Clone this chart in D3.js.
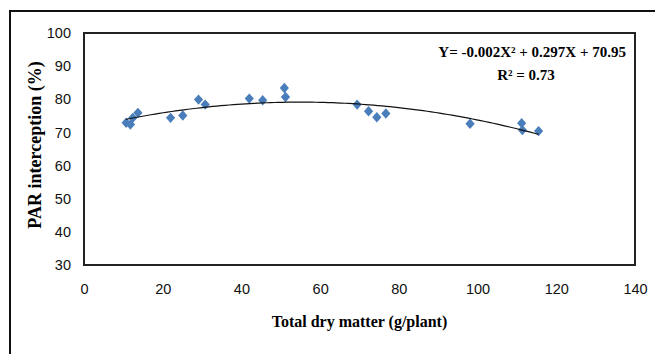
<!DOCTYPE html>
<html>
<head>
<meta charset="utf-8">
<script src="https://cdn.jsdelivr.net/npm/d3@7"></script>
<style>
  body { margin: 0; background: #fff; }
  svg { display: block; }
</style>
</head>
<body>
<div id="chart"></div>
<script>
// values
const dryMatter = [10.7, 11.8, 12.4, 13.7, 22.0, 25.1, 29.1, 30.8, 42.0, 45.4,
  50.9, 51.2, 69.4, 72.3, 74.4, 76.7, 98.1, 111.2, 111.4, 115.5]
const parInterception = [72.9, 72.4, 74.4, 75.9, 74.4, 75.1, 79.9, 78.4, 80.2, 79.7,
  83.4, 80.7, 78.4, 76.4, 74.6, 75.7, 72.6, 72.8, 70.7, 70.4]
const xTicks = [0, 20, 40, 60, 80, 100, 120, 140]
const yTicks = [30, 40, 50, 60, 70, 80, 90, 100]
const equationText = 'Y= -0.002X\u00B2 + 0.297X + 70.95'
const r2Text = 'R\u00B2 = 0.73'

const W = 655, H = 354
const margin = { left: 84, top: 33, right: 20, bottom: 89 }

const svg = d3.select('#chart').append('svg')
  .attr('width', W).attr('height', H)

// outer frame (right and bottom run off the picture)
svg.append('rect')
  .attr('x', 10).attr('y', 11)
  .attr('width', 660).attr('height', 360)
  .attr('fill', '#fff').attr('stroke', '#111').attr('stroke-width', 2)

const x = d3.scaleLinear().domain([0, 140]).range([margin.left, W - margin.right])
const y = d3.scaleLinear().domain([30, 100]).range([H - margin.bottom, margin.top])

// plot area
svg.append('rect')
  .attr('x', x(0)).attr('y', y(100))
  .attr('width', x(140) - x(0)).attr('height', y(30) - y(100))
  .attr('fill', '#fff').attr('stroke', '#222').attr('stroke-width', 2)

const xAxis = svg.append('g')
  .attr('transform', `translate(0, ${y(30)})`)
  .call(d3.axisBottom(x).tickValues(xTicks).tickSize(0).tickPadding(19))
xAxis.select('.domain').remove()
xAxis.selectAll('text')
  .attr('font-family', 'Liberation Sans, Arial, sans-serif')
  .attr('font-size', 14.5).attr('fill', '#111')

const yAxis = svg.append('g')
  .attr('transform', `translate(${x(0)}, 0)`)
  .call(d3.axisLeft(y).tickValues(yTicks).tickSize(0).tickPadding(13))
yAxis.select('.domain').remove()
yAxis.selectAll('text')
  .attr('font-family', 'Liberation Sans, Arial, sans-serif')
  .attr('font-size', 14.5).attr('fill', '#111')

// quadratic least squares trendline from the points
function quadFit(xs, ys) {
  let s = [0, 0, 0, 0, 0], t = [0, 0, 0]
  xs.forEach((xv, i) => {
    for (let k = 0; k < 5; k++) s[k] += Math.pow(xv, k)
    for (let k = 0; k < 3; k++) t[k] += ys[i] * Math.pow(xv, k)
  })
  const A = [[s[0], s[1], s[2], t[0]], [s[1], s[2], s[3], t[1]], [s[2], s[3], s[4], t[2]]]
  for (let i = 0; i < 3; i++) {
    for (let j = i + 1; j < 3; j++) {
      const f = A[j][i] / A[i][i]
      for (let k = i; k < 4; k++) A[j][k] -= f * A[i][k]
    }
  }
  const c = [0, 0, 0]
  for (let i = 2; i >= 0; i--) {
    let v = A[i][3]
    for (let k = i + 1; k < 3; k++) v -= A[i][k] * c[k]
    c[i] = v / A[i][i]
  }
  return c
}
const coef = quadFit(dryMatter, parInterception)
const xMin = d3.min(dryMatter), xMax = d3.max(dryMatter)
const trend = d3.range(0, 101).map(i => {
  const xv = xMin + (xMax - xMin) * i / 100
  return [xv, coef[0] + coef[1] * xv + coef[2] * xv * xv]
})

const diamond = 'M0,-5.2L4.6,0L0,5.2L-4.6,0Z'
svg.append('g').selectAll('path')
  .data(dryMatter.map((d, i) => [d, parInterception[i]]))
  .join('path')
  .attr('d', diamond)
  .attr('transform', d => `translate(${x(d[0])}, ${y(d[1])})`)
  .attr('fill', '#4a7ebb')

svg.append('path')
  .datum(trend)
  .attr('d', d3.line().x(d => x(d[0])).y(d => y(d[1])))
  .attr('fill', 'none').attr('stroke', '#111').attr('stroke-width', 1.2)

// equation
svg.append('text')
  .attr('x', 626).attr('y', 57)
  .attr('text-anchor', 'end')
  .attr('font-family', 'Liberation Serif, Times New Roman, serif')
  .attr('font-weight', 'bold').attr('font-size', 15)
  .text(equationText)
svg.append('text')
  .attr('x', 526).attr('y', 80)
  .attr('text-anchor', 'middle')
  .attr('font-family', 'Liberation Serif, Times New Roman, serif')
  .attr('font-weight', 'bold').attr('font-size', 15)
  .text(r2Text)

// axis titles
svg.append('text')
  .attr('x', (x(0) + x(140)) / 2).attr('y', 327)
  .attr('text-anchor', 'middle')
  .attr('font-family', 'Liberation Serif, Times New Roman, serif')
  .attr('font-weight', 'bold').attr('font-size', 16)
  .text('Total dry matter (g/plant)')
svg.append('text')
  .attr('transform', `translate(41, ${(y(30) + y(100)) / 2 - 4}) rotate(-90)`)
  .attr('text-anchor', 'middle')
  .attr('font-family', 'Liberation Serif, Times New Roman, serif')
  .attr('font-weight', 'bold').attr('font-size', 18)
  .text('PAR interception (%)')
</script>
</body>
</html>
